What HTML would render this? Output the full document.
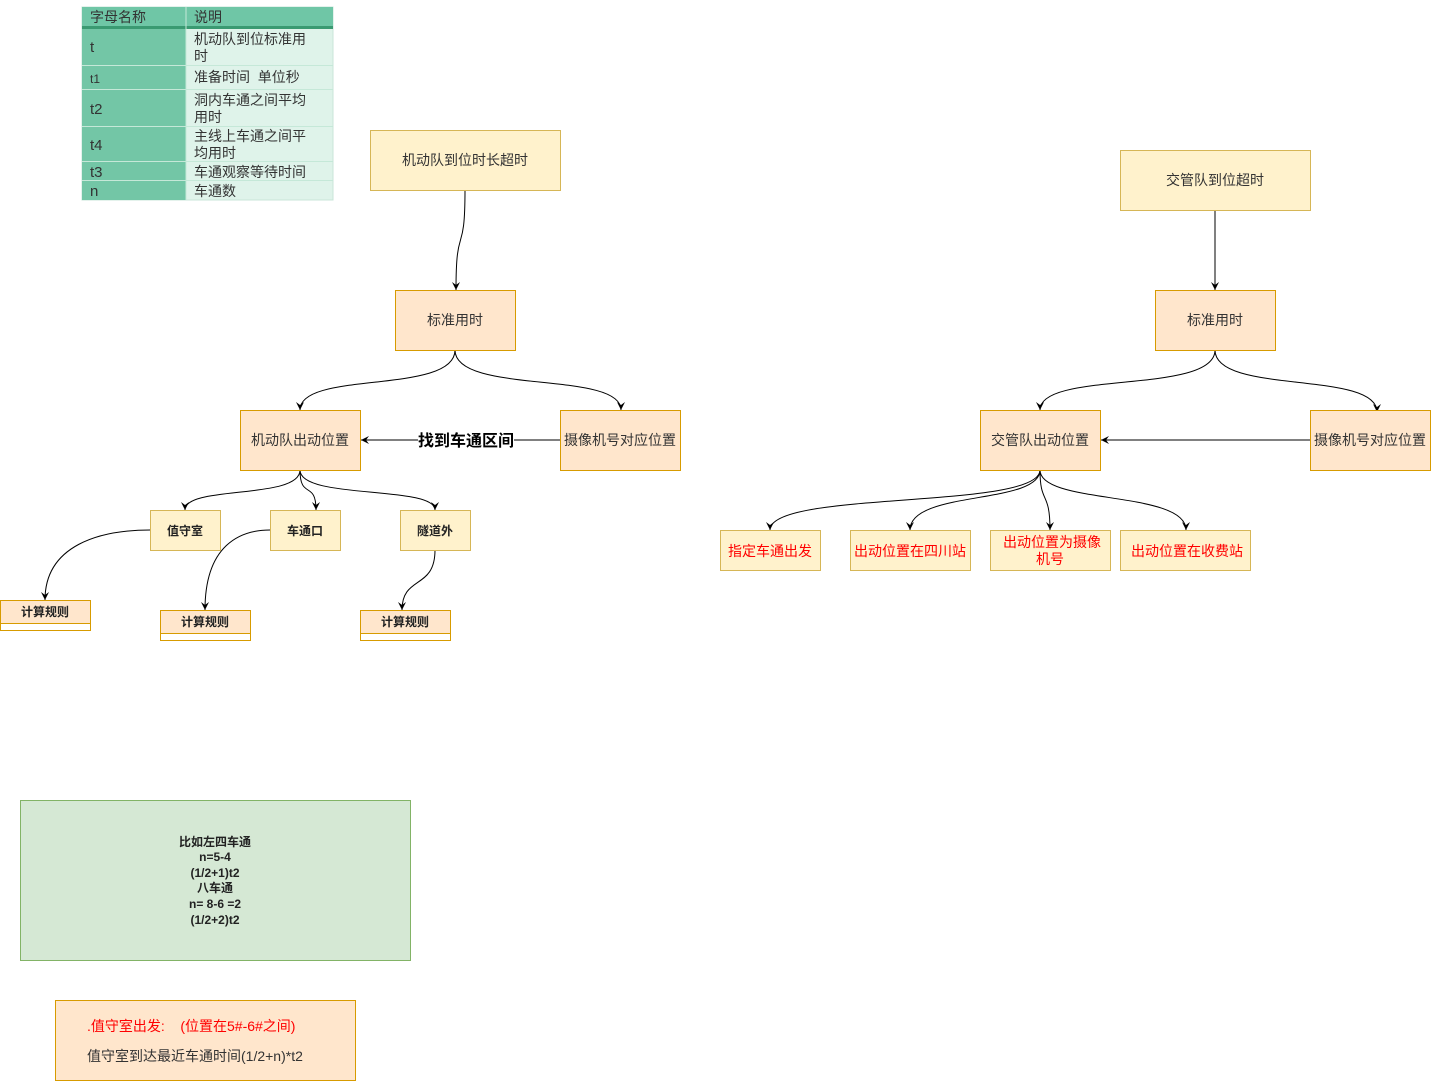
<!DOCTYPE html>
<html><head><meta charset="utf-8"><style>
html,body{margin:0;padding:0;background:#fff;}
svg{display:block;font-family:"Liberation Sans","Noto Sans CJK SC",sans-serif;}
</style></head><body>
<svg width="1431" height="1081" viewBox="0 0 1431 1081" xmlns="http://www.w3.org/2000/svg">
<defs>
<marker id="a" markerWidth="10" markerHeight="10" refX="9" refY="5" orient="auto" markerUnits="userSpaceOnUse" viewBox="0 0 10 10">
<path d="M1,1 L9,5 L1,9 L4,5 Z" fill="#000"/></marker>
</defs>
<!-- table -->
<g font-size="14" fill="#333">
<rect x="82" y="7" width="251" height="193" fill="#dff3ea" stroke="#c8e6d8"/>
<rect x="82" y="7" width="251" height="20" fill="#6fc6a6"/>
<rect x="82" y="27" width="104" height="173" fill="#73c6a6"/>
<rect x="82" y="26" width="251" height="3" fill="#3a9a72"/>
<g stroke="#c5e8d8" stroke-width="1">
<line x1="186" y1="7" x2="186" y2="200"/>
<line x1="82" y1="65.5" x2="333" y2="65.5"/>
<line x1="82" y1="89.5" x2="333" y2="89.5"/>
<line x1="82" y1="126.5" x2="333" y2="126.5"/>
<line x1="82" y1="161.5" x2="333" y2="161.5"/>
<line x1="82" y1="180.5" x2="333" y2="180.5"/>
</g>
<text x="90" y="22">字母名称</text><text x="194" y="22">说明</text>
<text x="90" y="52" font-size="15">t</text><text x="194" y="44">机动队到位标准用</text><text x="194" y="61">时</text>
<text x="90" y="83" font-size="12">t1</text><text x="194" y="82">准备时间&#160;&#160;单位秒</text>
<text x="90" y="114" font-size="15">t2</text><text x="194" y="105">洞内车通之间平均</text><text x="194" y="122">用时</text>
<text x="90" y="150" font-size="15">t4</text><text x="194" y="141">主线上车通之间平</text><text x="194" y="158">均用时</text>
<text x="90" y="177" font-size="15">t3</text><text x="194" y="177">车通观察等待时间</text>
<text x="90" y="196" font-size="15">n</text><text x="194" y="196">车通数</text>
</g>

<!-- edges -->
<g fill="none" stroke="#000" stroke-width="1">
<path d="M465,190 C465,260 456,220 456,290" marker-end="url(#a)"/>
<path d="M455,350 C455,395 300,370 300,410" marker-end="url(#a)"/>
<path d="M455,350 C455,395 621,370 621,410" marker-end="url(#a)"/>
<path d="M560,440 L361,440" marker-end="url(#a)"/>
<path d="M300,470 C300,500 185,485 185,510" marker-end="url(#a)"/>
<path d="M300,470 C300,500 316,480 316,510" marker-end="url(#a)"/>
<path d="M300,470 C300,500 435,485 435,510" marker-end="url(#a)"/>
<path d="M150,530 C100,530 45,545 45,600" marker-end="url(#a)"/>
<path d="M270,530 C240,530 205,545 205,610" marker-end="url(#a)"/>
<path d="M435,550 C435,590 402,575 402,610" marker-end="url(#a)"/>
<path d="M1215,210 L1215,290" marker-end="url(#a)"/>
<path d="M1215,350 C1215,395 1040,370 1040,410" marker-end="url(#a)"/>
<path d="M1215,350 C1215,395 1377,370 1377,412" marker-end="url(#a)"/>
<path d="M1310,440 L1101,440" marker-end="url(#a)"/>
<path d="M1040,470 C1040,510 770,490 770,530" marker-end="url(#a)"/>
<path d="M1040,470 C1040,505 910,490 910,530" marker-end="url(#a)"/>
<path d="M1040,470 C1040,505 1050,490 1050,530" marker-end="url(#a)"/>
<path d="M1040,470 C1040,505 1186,490 1186,530" marker-end="url(#a)"/>
</g>
<rect x="418" y="430" width="96" height="20" fill="#fff"/>
<text x="466" y="446" font-size="16" font-weight="bold" text-anchor="middle">找到车通区间</text>

<!-- nodes -->
<g font-size="14" fill="#333" text-anchor="middle">
<rect x="370.5" y="130.5" width="190" height="60" fill="#fff2cc" stroke="#d6b656"/>
<text x="465" y="165">机动队到位时长超时</text>
<rect x="395.5" y="290.5" width="120" height="60" fill="#ffe6cc" stroke="#d79b00"/>
<text x="455" y="325">标准用时</text>
<rect x="240.5" y="410.5" width="120" height="60" fill="#ffe6cc" stroke="#d79b00"/>
<text x="300" y="445">机动队出动位置</text>
<rect x="560.5" y="410.5" width="120" height="60" fill="#ffe6cc" stroke="#d79b00"/>
<text x="620" y="445">摄像机号对应位置</text>
<rect x="1120.5" y="150.5" width="190" height="60" fill="#fff2cc" stroke="#d6b656"/>
<text x="1215" y="185">交管队到位超时</text>
<rect x="1155.5" y="290.5" width="120" height="60" fill="#ffe6cc" stroke="#d79b00"/>
<text x="1215" y="325">标准用时</text>
<rect x="980.5" y="410.5" width="120" height="60" fill="#ffe6cc" stroke="#d79b00"/>
<text x="1040" y="445">交管队出动位置</text>
<rect x="1310.5" y="410.5" width="120" height="60" fill="#ffe6cc" stroke="#d79b00"/>
<text x="1370" y="445">摄像机号对应位置</text>
</g>
<g font-size="12" font-weight="bold" fill="#222" text-anchor="middle">
<rect x="150.5" y="510.5" width="70" height="40" fill="#fff2cc" stroke="#d6b656"/><text x="185" y="535">值守室</text>
<rect x="270.5" y="510.5" width="70" height="40" fill="#fff2cc" stroke="#d6b656"/><text x="305" y="535">车通口</text>
<rect x="400.5" y="510.5" width="70" height="40" fill="#fff2cc" stroke="#d6b656"/><text x="435" y="535">隧道外</text>
<rect x="0.5" y="600.5" width="90" height="30" fill="#fff" stroke="#d79b00"/><rect x="0.5" y="600.5" width="90" height="23" fill="#ffe6cc" stroke="#d79b00"/><text x="45" y="616">计算规则</text>
<rect x="160.5" y="610.5" width="90" height="30" fill="#fff" stroke="#d79b00"/><rect x="160.5" y="610.5" width="90" height="23" fill="#ffe6cc" stroke="#d79b00"/><text x="205" y="626">计算规则</text>
<rect x="360.5" y="610.5" width="90" height="30" fill="#fff" stroke="#d79b00"/><rect x="360.5" y="610.5" width="90" height="23" fill="#ffe6cc" stroke="#d79b00"/><text x="405" y="626">计算规则</text>
</g>
<g font-size="14" fill="#ff0000" text-anchor="middle">
<rect x="720.5" y="530.5" width="100" height="40" fill="#fff2cc" stroke="#d6b656"/><text x="770" y="556">指定车通出发</text>
<rect x="850.5" y="530.5" width="120" height="40" fill="#fff2cc" stroke="#d6b656"/><text x="910" y="556">出动位置在四川站</text>
<rect x="990.5" y="530.5" width="120" height="40" fill="#fff2cc" stroke="#d6b656"/><text x="1052" y="547">出动位置为摄像</text><text x="1050" y="564">机号</text>
<rect x="1120.5" y="530.5" width="130" height="40" fill="#fff2cc" stroke="#d6b656"/><text x="1187" y="556">出动位置在收费站</text>
</g>
<rect x="20.5" y="800.5" width="390" height="160" fill="#d5e8d4" stroke="#82b366"/>
<g font-size="12" font-weight="bold" fill="#222" text-anchor="middle">
<text x="215" y="846">比如左四车通</text>
<text x="215" y="861">n=5-4</text>
<text x="215" y="877">(1/2+1)t2</text>
<text x="215" y="892">八车通</text>
<text x="215" y="908">n= 8-6 =2</text>
<text x="215" y="924">(1/2+2)t2</text>
</g>
<rect x="55.5" y="1000.5" width="300" height="80" fill="#ffe6cc" stroke="#d79b00"/>
<text x="87" y="1031" font-size="14" fill="#ff0000">.值守室出发:&#160;&#160;&#160;&#160;(位置在5#-6#之间)</text>
<text x="87" y="1061" font-size="14" fill="#333">值守室到达最近车通时间(1/2+n)*t2</text>
</svg>
</body></html>
